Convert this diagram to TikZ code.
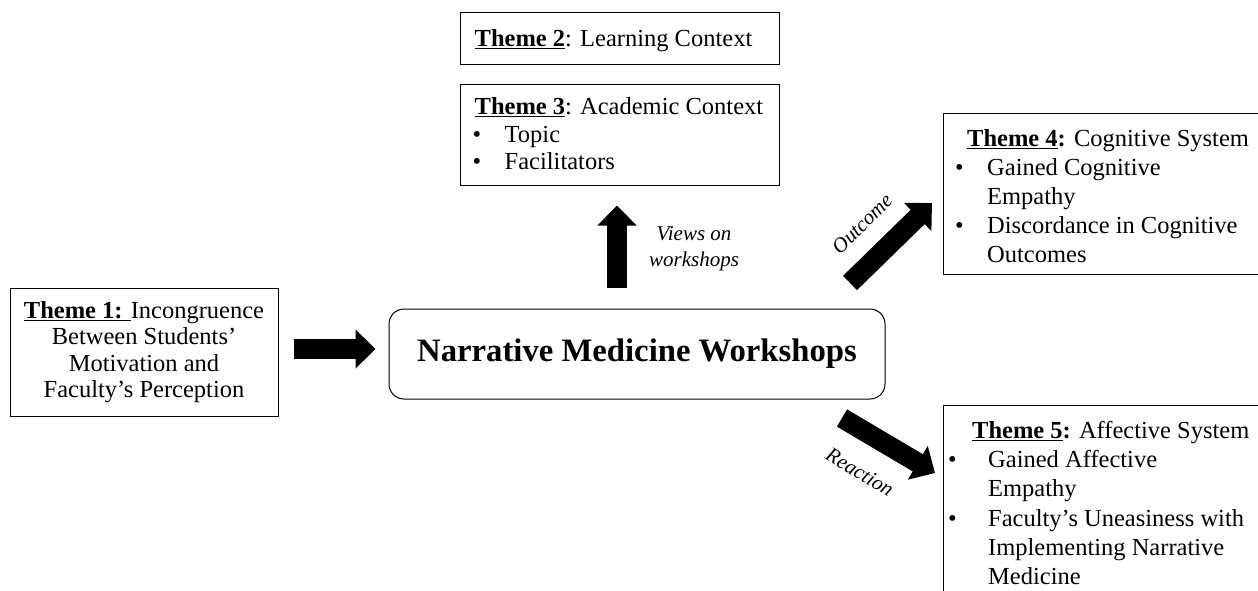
\documentclass[tikz,border=0pt]{standalone}
\usepackage{fontspec}
\setmainfont{Liberation Serif}
\usetikzlibrary{arrows.meta,calc}
\newcommand{\bul}[1]{\makebox[#1][l]{\textbullet}}
\begin{document}
\begin{tikzpicture}[x=1pt,y=-1pt,
  box/.style={draw, line width=1pt, rectangle, inner sep=0pt},
  txt/.style={font=\fontsize{24.5}{29}\selectfont, align=left, inner sep=0pt, anchor=north west},
  blk/.style={line width=20pt, -{Triangle[width=38pt,length=20pt]}},
  lbl/.style={font=\fontsize{21}{26}\selectfont\itshape, inner sep=0pt}]
\useasboundingbox (0,0) rectangle (1258,591);
% Theme 1
\node[box, minimum width=268pt, minimum height=128pt, align=center,
  font=\fontsize{24.5}{26.5}\selectfont] (t1) at (144,352)
  {\underline{\textbf{Theme 1: }}Incongruence\\Between Students’\\Motivation and\\Faculty’s Perception};
% Main
\node[box, rounded corners=15pt, minimum width=496pt, minimum height=90pt,
  font=\fontsize{32.7}{36}\selectfont\bfseries] (main) at (637,354)
  {Narrative Medicine Workshops};
% Theme 2
\node[box, minimum width=319pt, minimum height=52pt] (t2) at (619.5,39) {};
\node[txt, anchor=west] (t2t) at ($(t2.west)+(15,2)$)
  {\underline{\textbf{Theme 2}}: Learning Context};
% Theme 3
\node[box, minimum width=319pt, minimum height=100pt] (t3) at (619.5,135) {};
\node[txt, font=\fontsize{24.5}{27.5}\selectfont] (t3t) at ($(t3.north west)+(15,13)$)
  {\underline{\textbf{Theme 3}}: Academic Context\\
   \hspace*{-2pt}\bul{32pt}Topic\\
   \hspace*{-2pt}\bul{32pt}Facilitators};
% Theme 4
\node[box, minimum width=330pt, minimum height=161pt, anchor=north west] (t4) at (943,113) {};
\node[txt] (t4t) at ($(t4.north west)+(12,16)$)
  {\hspace*{12pt}\underline{\textbf{Theme 4}}\textbf{:} Cognitive System\\
   \bul{32pt}Gained Cognitive\\
   \hspace*{32pt}Empathy\\
   \bul{32pt}Discordance in Cognitive\\
   \hspace*{32pt}Outcomes};
% Theme 5
\node[box, minimum width=330pt, minimum height=200pt, anchor=north west] (t5) at (943,405) {};
\node[txt, font=\fontsize{24.5}{29.2}\selectfont] (t5t) at ($(t5.north west)+(5,16)$)
  {\hspace*{24pt}\underline{\textbf{Theme 5}}\textbf{:} Affective System\\
   \bul{40pt}Gained Affective\\
   \hspace*{40pt}Empathy\\
   \bul{40pt}Faculty’s Uneasiness with\\
   \hspace*{40pt}Implementing Narrative\\
   \hspace*{40pt}Medicine};
% Arrows
\draw[blk] ($(t1.east)+(15,-3)$) -- ($(main.west)+(-13,-5)$);
\draw[blk] ($(main.north)+(-20,-21)$) -- ($(t3.south)+(-2.5,20)$);
\coordinate (oa) at (850,283);
\coordinate (ob) at (932,203);
\draw[blk] (oa) -- (ob);
\coordinate (ra) at (842,418);
\coordinate (rb) at (935,473);
\draw[blk] (ra) -- (rb);
% Labels
\node[lbl, align=center] (lv) at (694,249) {Views on\\workshops};
\node[lbl, rotate=45] (lo) at (862,224) {Outcome};
\node[lbl, rotate=-31] (lr) at (860,472) {Reaction};
\end{tikzpicture}
\end{document}
